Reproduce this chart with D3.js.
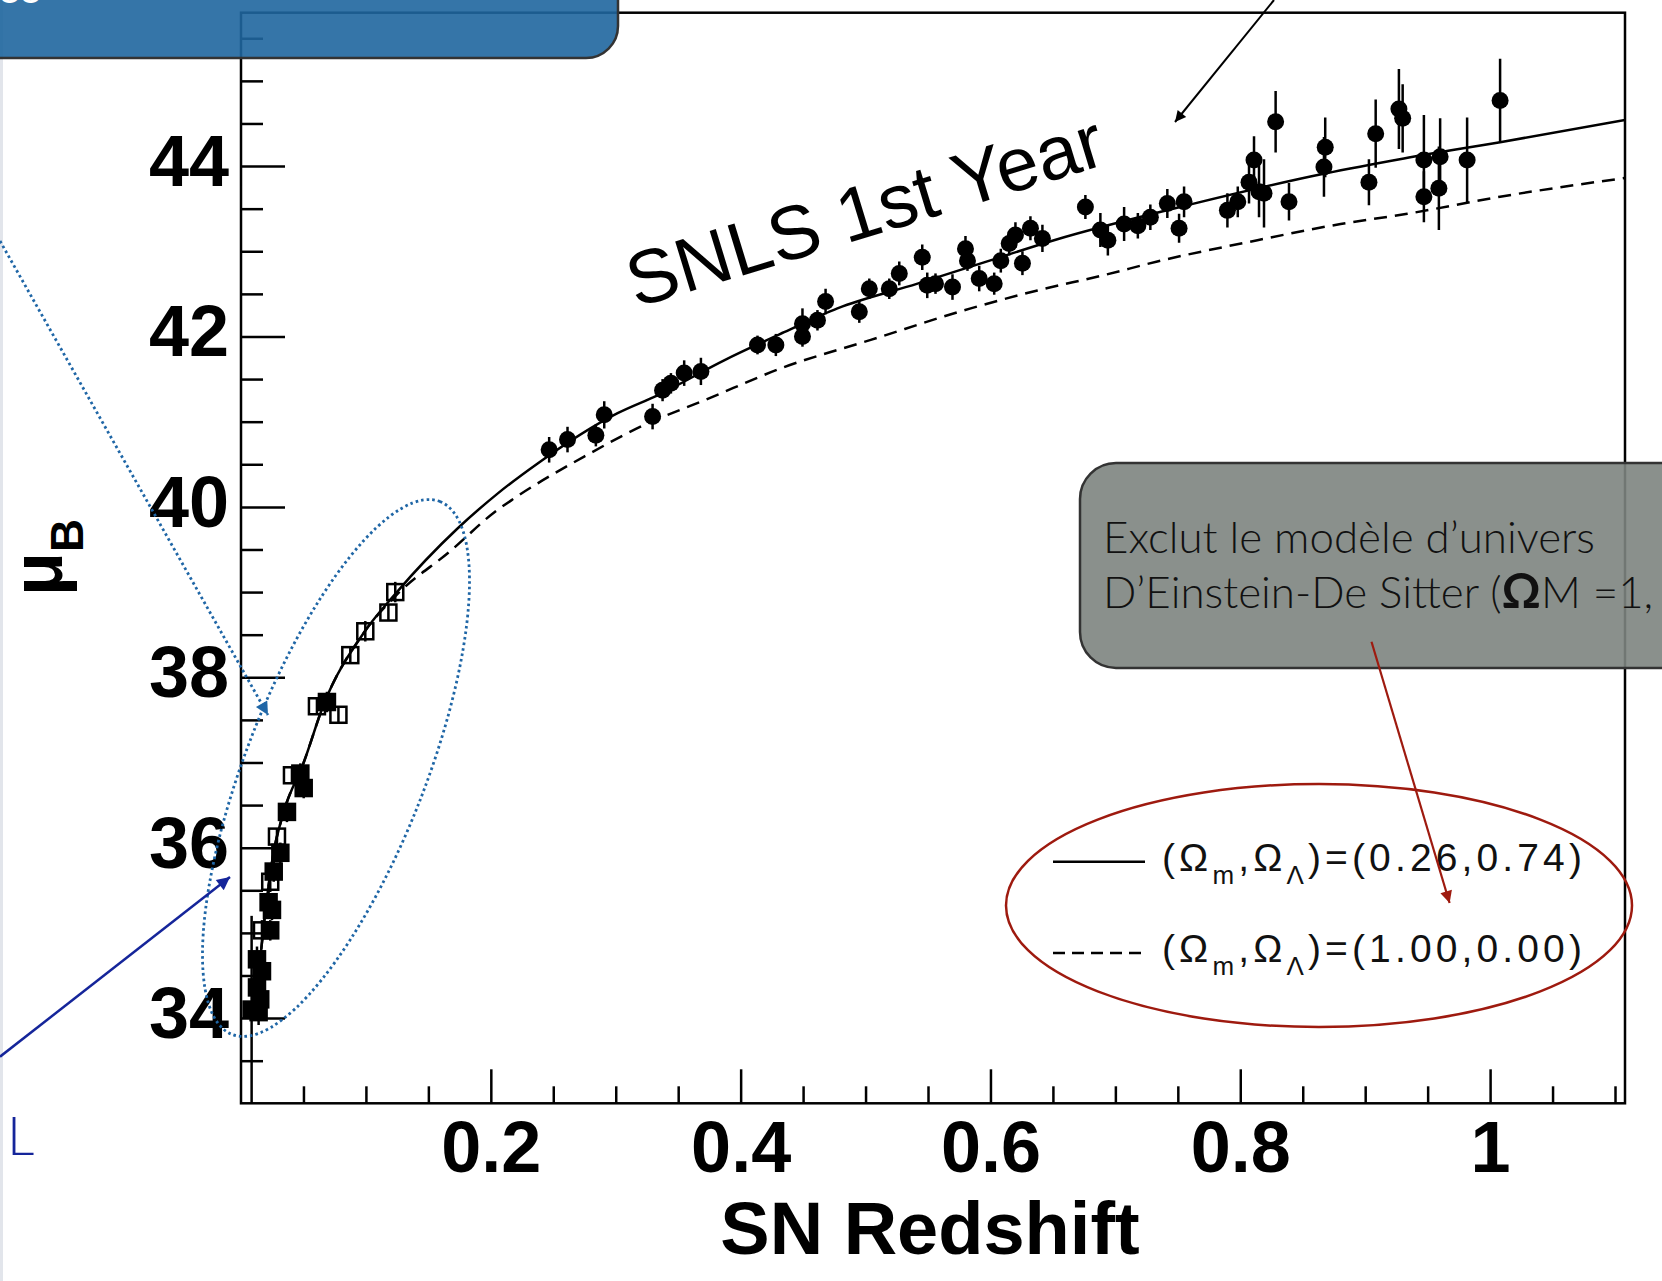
<!DOCTYPE html>
<html>
<head>
<meta charset="utf-8">
<script src="https://cdn.jsdelivr.net/npm/d3@7"></script>
<style>
  html, body { margin: 0; padding: 0; background: #fff; overflow: hidden; }
  svg { display: block; }
</style>
</head>
<body>
<div id="chart"></div>
<script>
// Hubble diagram, SNLS 1st year, with slide annotations on top

const xTickValues = [0.2, 0.4, 0.6, 0.8, 1];
const xTickLabels = ["0.2", "0.4", "0.6", "0.8", "1"];
const yTickValues = [34, 36, 38, 40, 42, 44];
const yTickLabels = ["34", "36", "38", "40", "42", "44"];

// (Ωm, ΩΛ) = (0.26, 0.74), solid curve
const lcdmZ  = [0.0114, 0.0154, 0.0208, 0.0262, 0.0342, 0.0502, 0.0662, 0.0982, 0.1248, 0.1729, 0.2049, 0.2375, 0.3015, 0.3335, 0.3868, 0.4348, 0.4775, 0.5416, 0.5949, 0.6509, 0.7603, 0.8667, 0.931, 1.008, 1.108];
const lcdmMu = [34.07, 34.69, 35.41, 35.95, 36.42, 37.0, 37.68, 38.52, 39.0, 39.74, 40.15, 40.51, 41.10, 41.31, 41.72, 42.05, 42.33, 42.62, 42.87, 43.13, 43.55, 43.91, 44.09, 44.28, 44.54];

// (Ωm, ΩΛ) = (1.00, 0.00), dashed curve
const edsZ  = [0.0114, 0.0154, 0.0208, 0.0262, 0.0342, 0.0502, 0.0662, 0.0982, 0.1248, 0.1675, 0.2049, 0.2187, 0.2747, 0.3255, 0.3708, 0.4348, 0.5042, 0.5842, 0.6376, 0.6909, 0.7336, 0.8137, 0.8803, 0.9337, 1.008, 1.108];
const edsMu = [34.07, 34.69, 35.41, 35.95, 36.42, 37.0, 37.68, 38.52, 38.97, 39.48, 39.96, 40.10, 40.59, 40.98, 41.25, 41.64, 41.96, 42.33, 42.54, 42.72, 42.88, 43.13, 43.32, 43.44, 43.64, 43.86];

// SNLS supernovae
const snlsZ   = [0.2467, 0.2614, 0.2841, 0.2908, 0.3295, 0.3375, 0.3442, 0.3548, 0.3682, 0.4135, 0.4282, 0.4495, 0.4495, 0.4615, 0.468, 0.495, 0.503, 0.519, 0.527, 0.5454, 0.5494, 0.556, 0.5696, 0.580, 0.5816, 0.591, 0.603, 0.6083, 0.615, 0.620, 0.6256, 0.632, 0.6416, 0.676, 0.688, 0.694, 0.707, 0.718, 0.728, 0.7416, 0.751, 0.755, 0.7897, 0.798, 0.807, 0.811, 0.815, 0.819, 0.8283, 0.839, 0.867, 0.868, 0.903, 0.9084, 0.927, 0.93, 0.947, 0.947, 0.959, 0.960, 0.9816, 1.008];
const snlsMu  = [40.67, 40.79, 40.84, 41.08, 41.06, 41.37, 41.45, 41.57, 41.59, 41.90, 41.90, 42.15, 42.00, 42.19, 42.41, 42.29, 42.56, 42.56, 42.74, 42.93, 42.60, 42.62, 42.58, 43.03, 42.89, 42.68, 42.62, 42.89, 43.09, 43.19, 42.86, 43.27, 43.15, 43.52, 43.25, 43.13, 43.32, 43.30, 43.40, 43.56, 43.27, 43.58, 43.48, 43.58, 43.81, 44.07, 43.70, 43.68, 44.52, 43.58, 43.99, 44.22, 43.81, 44.38, 44.67, 44.56, 44.07, 43.64, 43.74, 44.11, 44.07, 44.77];
const snlsErr = [0.15, 0.15, 0.13, 0.16, 0.15, 0.13, 0.12, 0.15, 0.16, 0.11, 0.13, 0.18, 0.12, 0.12, 0.15, 0.13, 0.12, 0.12, 0.14, 0.15, 0.15, 0.12, 0.15, 0.15, 0.12, 0.15, 0.13, 0.14, 0.14, 0.15, 0.14, 0.14, 0.16, 0.14, 0.20, 0.18, 0.20, 0.15, 0.15, 0.17, 0.17, 0.18, 0.20, 0.18, 0.25, 0.28, 0.30, 0.40, 0.36, 0.22, 0.35, 0.35, 0.27, 0.40, 0.47, 0.40, 0.53, 0.30, 0.49, 0.45, 0.50, 0.49];

// nearby supernovae (open = hollow square)
const nearbyZ    = [0.0085, 0.0141, 0.0154, 0.0128, 0.0168, 0.0128, 0.0234, 0.0168, 0.0248, 0.0221, 0.0234, 0.0262, 0.0315, 0.0288, 0.0368, 0.0502, 0.0408, 0.0475, 0.078, 0.0608, 0.0688, 0.0875, 0.0995, 0.118, 0.1235];
const nearbyMu   = [34.10, 34.07, 34.22, 34.36, 34.55, 34.69, 35.03, 35.03, 35.27, 35.36, 35.60, 35.72, 35.94, 36.13, 36.42, 36.70, 36.85, 36.87, 37.56, 37.66, 37.71, 38.26, 38.54, 38.76, 39.00];
const nearbyErr  = [1.10, 0.15, 0.15, 0.15, 0.15, 0.15, 0.12, 0.12, 0.12, 0.12, 0.12, 0.12, 0.12, 0.10, 0.12, 0.12, 0.10, 0.12, 0.10, 0.10, 0.12, 0.10, 0.12, 0.10, 0.12];
const nearbyOpen = [false, false, false, false, false, false, false, true, false, false, true, false, false, true, false, false, true, false, true, true, false, true, true, true, true];

const legendOm = ["0.26", "1.00"];
const legendOl = ["0.74", "0.00"];

const width = 1662;
const height = 1281;
const margin = { top: 12.7, right: 37, bottom: 177.7, left: 241 };
const axisFont = "'Liberation Sans', Arial, Helvetica, sans-serif";
const slideFont = "Lato, 'Open Sans', sans-serif";

const svg = d3.select("#chart")
  .append("svg")
  .attr("width", width)
  .attr("height", height);

const defs = svg.append("defs");

function arrowMarker(id, color, w, h){
  defs.append("marker")
    .attr("id", id)
    .attr("viewBox", "0 0 10 10")
    .attr("refX", 10)
    .attr("refY", 5)
    .attr("markerUnits", "userSpaceOnUse")
    .attr("markerWidth", w)
    .attr("markerHeight", h)
    .attr("orient", "auto")
    .append("path")
    .attr("d", "M0,0 L10,5 L0,10 Z")
    .attr("fill", color);
}

arrowMarker("headBlue", "#1f66a6", 16, 13);
arrowMarker("headNavy", "#15259a", 17, 13);
arrowMarker("headBlack", "#000", 16, 11);
arrowMarker("headRed", "#9e1a0f", 17, 12);

const x = d3.scaleLinear()
  .domain([0, 1.108])
  .range([margin.left, width - margin.right]);

const y = d3.scaleLinear()
  .domain([33, 45.8])
  .range([height - margin.bottom, margin.top]);

defs.append("clipPath")
  .attr("id", "plotClip")
  .append("rect")
  .attr("x", margin.left)
  .attr("y", margin.top)
  .attr("width", width - margin.left - margin.right)
  .attr("height", height - margin.top - margin.bottom);

// faint strip on the slide's left edge
svg.append("rect")
  .attr("x", 0).attr("y", 0)
  .attr("width", 3).attr("height", height)
  .attr("fill", "#e2e5eb");

// axes, ROOT style: ticks point inward
const yMinor = d3.range(33.5, 45.6, 0.5).filter(v => v % 2 !== 0);
const xMinor = d3.range(1, 23).map(i => i * 0.05).filter((v, i) => (i + 1) % 4 !== 0);

function styleAxis(g){
  g.select(".domain").remove();
  g.selectAll("line").attr("stroke", "#000").attr("stroke-width", 2.5);
}

svg.append("g")
  .attr("transform", `translate(${margin.left},0)`)
  .call(d3.axisLeft(y).tickValues(yMinor).tickSize(-22).tickFormat(""))
  .call(styleAxis);

svg.append("g")
  .attr("transform", `translate(${margin.left},0)`)
  .call(d3.axisLeft(y).tickValues(yTickValues).tickSize(-44).tickPadding(12)
    .tickFormat((d, i) => yTickLabels[i]))
  .call(styleAxis)
  .selectAll("text")
  .attr("dy", "0.27em")
  .style("font-family", axisFont)
  .style("font-size", "72px")
  .style("font-weight", "bold")
  .attr("fill", "#000");

svg.append("g")
  .attr("transform", `translate(0,${height - margin.bottom})`)
  .call(d3.axisBottom(x).tickValues(xMinor).tickSize(-17).tickFormat(""))
  .call(styleAxis);

svg.append("g")
  .attr("transform", `translate(0,${height - margin.bottom})`)
  .call(d3.axisBottom(x).tickValues(xTickValues).tickSize(-34).tickPadding(18)
    .tickFormat((d, i) => xTickLabels[i]))
  .call(styleAxis)
  .selectAll("text")
  .style("font-family", axisFont)
  .style("font-size", "72px")
  .style("font-weight", "bold")
  .attr("fill", "#000");

svg.append("rect")
  .attr("x", margin.left)
  .attr("y", margin.top)
  .attr("width", width - margin.left - margin.right)
  .attr("height", height - margin.top - margin.bottom)
  .attr("fill", "none")
  .attr("stroke", "#000")
  .attr("stroke-width", 2.5);

svg.append("text")
  .attr("x", 930)
  .attr("y", 1254)
  .attr("text-anchor", "middle")
  .style("font-family", axisFont)
  .style("font-size", "74px")
  .style("font-weight", "bold")
  .text("SN Redshift");

const muLabel = svg.append("text")
  .attr("transform", "translate(62,596) rotate(-90)")
  .style("font-family", axisFont)
  .style("font-size", "72px")
  .style("font-weight", "bold")
  .text("μ");
muLabel.append("tspan")
  .attr("dy", 21)
  .style("font-size", "46px")
  .text("B");

// model curves
const plot = svg.append("g").attr("clip-path", "url(#plotClip)");

const line = d3.line()
  .x(d => x(d[0]))
  .y(d => y(d[1]))
  .curve(d3.curveMonotoneX);

plot.append("path")
  .datum(edsZ.map((z, i) => [z, edsMu[i]]))
  .attr("d", line)
  .attr("fill", "none")
  .attr("stroke", "#000")
  .attr("stroke-width", 2.5)
  .attr("stroke-dasharray", "13 8");

plot.append("path")
  .datum(lcdmZ.map((z, i) => [z, lcdmMu[i]]))
  .attr("d", line)
  .attr("fill", "none")
  .attr("stroke", "#000")
  .attr("stroke-width", 2.5);

// data points with error bars
const nearby = nearbyZ.map((z, i) => ({ z, mu: nearbyMu[i], err: nearbyErr[i], open: nearbyOpen[i] }));
const snls = snlsZ.map((z, i) => ({ z, mu: snlsMu[i], err: snlsErr[i] }));

plot.selectAll(".err")
  .data(nearby.concat(snls))
  .enter()
  .append("line")
  .attr("class", "err")
  .attr("x1", d => x(d.z))
  .attr("x2", d => x(d.z))
  .attr("y1", d => y(d.mu - d.err))
  .attr("y2", d => y(d.mu + d.err))
  .attr("stroke", "#000")
  .attr("stroke-width", 2.5);

plot.selectAll(".nearby")
  .data(nearby)
  .enter()
  .append("rect")
  .attr("class", "nearby")
  .attr("x", d => x(d.z) - 8)
  .attr("y", d => y(d.mu) - 8)
  .attr("width", 16)
  .attr("height", 16)
  .attr("fill", d => d.open ? "none" : "#000")
  .attr("stroke", "#000")
  .attr("stroke-width", 2.5);

plot.selectAll(".snls")
  .data(snls)
  .enter()
  .append("circle")
  .attr("class", "snls")
  .attr("cx", d => x(d.z))
  .attr("cy", d => y(d.mu))
  .attr("r", 8.5)
  .attr("fill", "#000");

// legend
const legendRows = [
  { y: 861.7, dash: null, om: legendOm[0], ol: legendOl[0] },
  { y: 953, dash: "12 7", om: legendOm[1], ol: legendOl[1] }
];

legendRows.forEach(r => {
  svg.append("line")
    .attr("x1", 1053).attr("x2", 1145)
    .attr("y1", r.y).attr("y2", r.y)
    .attr("stroke", "#000")
    .attr("stroke-width", 2.5)
    .attr("stroke-dasharray", r.dash);

  const t = svg.append("text")
    .attr("x", 1162)
    .attr("y", r.y + 9)
    .style("font-family", axisFont)
    .style("font-size", "39px")
    .attr("fill", "#111");
  t.append("tspan").text("(Ω");
  t.append("tspan").attr("dy", 13).style("font-size", "26px").text("m");
  t.append("tspan").attr("dy", -13).text(",Ω");
  t.append("tspan").attr("dy", 13).style("font-size", "26px").text("Λ");
  t.append("tspan").attr("dy", -13).text(`)=(${r.om},${r.ol})`);
  const w = t.node().getComputedTextLength();
  t.attr("letter-spacing", ((420 - w) / 18).toFixed(2));
});

svg.append("text")
  .attr("transform", "translate(636,308) rotate(-17)")
  .style("font-family", axisFont)
  .style("font-size", "76px")
  .attr("fill", "#000")
  .text("SNLS 1st Year");

// slide overlays
svg.append("rect")
  .attr("x", -40).attr("y", -40)
  .attr("width", 658).attr("height", 98)
  .attr("rx", 32)
  .attr("fill", "#1f669e")
  .attr("fill-opacity", 0.9)
  .attr("stroke", "#333")
  .attr("stroke-width", 2.5);

svg.append("text")
  .attr("x", -2).attr("y", 2.5)
  .style("font-family", slideFont)
  .style("font-size", "40px")
  .attr("fill", "#fff")
  .text("ee");

svg.append("rect")
  .attr("x", 1080).attr("y", 463)
  .attr("width", 700).attr("height", 205)
  .attr("rx", 36)
  .attr("fill", "#7d8480")
  .attr("fill-opacity", 0.9)
  .attr("stroke", "#333")
  .attr("stroke-width", 2.5);

const boxLine1 = "Exclut le modèle d’univers";
const boxLine2a = "D’Einstein-De Sitter (";
const boxLine2b = "M =1, ";
const boxLine2c = "Λ=0)";

const t1 = svg.append("text")
  .attr("x", 1103).attr("y", 553)
  .style("font-family", slideFont)
  .style("font-weight", 300)
  .style("font-size", "46px")
  .attr("fill", "#111")
  .text(boxLine1);
const boxSize = 46 * 492 / t1.node().getComputedTextLength();
t1.style("font-size", boxSize.toFixed(1) + "px");

const t2 = svg.append("text")
  .attr("x", 1103).attr("y", 608)
  .style("font-family", slideFont)
  .style("font-weight", 300)
  .style("font-size", boxSize.toFixed(1) + "px")
  .attr("fill", "#111");
t2.append("tspan").text(boxLine2a);
t2.append("tspan").style("font-weight", 700).style("font-size", (boxSize * 1.1).toFixed(1) + "px").text("Ω");
t2.append("tspan").text(boxLine2b);
t2.append("tspan").style("font-weight", 700).style("font-size", (boxSize * 1.1).toFixed(1) + "px").text("Ω");
t2.append("tspan").text(boxLine2c);

// annotation shapes
svg.append("ellipse")
  .attr("transform", "translate(336,768) rotate(-68.7)")
  .attr("rx", 286).attr("ry", 90)
  .attr("fill", "none")
  .attr("stroke", "#1f66a6")
  .attr("stroke-width", 2.8)
  .attr("stroke-dasharray", "2.6 3");

svg.append("line")
  .attr("x1", 0).attr("y1", 241)
  .attr("x2", 268).attr("y2", 715)
  .attr("stroke", "#1f66a6")
  .attr("stroke-width", 2.8)
  .attr("stroke-dasharray", "2.6 3")
  .attr("marker-end", "url(#headBlue)");

svg.append("line")
  .attr("x1", 0).attr("y1", 1056.7)
  .attr("x2", 230).attr("y2", 877)
  .attr("stroke", "#15259a")
  .attr("stroke-width", 2.5)
  .attr("marker-end", "url(#headNavy)");

svg.append("text")
  .attr("x", 7).attr("y", 1155)
  .style("font-family", slideFont)
  .style("font-weight", 300)
  .style("font-size", "54px")
  .attr("fill", "#15259a")
  .text("L");

svg.append("line")
  .attr("x1", 1274).attr("y1", 0)
  .attr("x2", 1175).attr("y2", 122)
  .attr("stroke", "#000")
  .attr("stroke-width", 2)
  .attr("marker-end", "url(#headBlack)");

svg.append("ellipse")
  .attr("cx", 1319).attr("cy", 905.5)
  .attr("rx", 313).attr("ry", 121.5)
  .attr("fill", "none")
  .attr("stroke", "#9e1a0f")
  .attr("stroke-width", 2.5);

svg.append("line")
  .attr("x1", 1371.5).attr("y1", 641.7)
  .attr("x2", 1449.6).attr("y2", 903)
  .attr("stroke", "#9e1a0f")
  .attr("stroke-width", 2.2)
  .attr("marker-end", "url(#headRed)");
</script>
</body>
</html>
